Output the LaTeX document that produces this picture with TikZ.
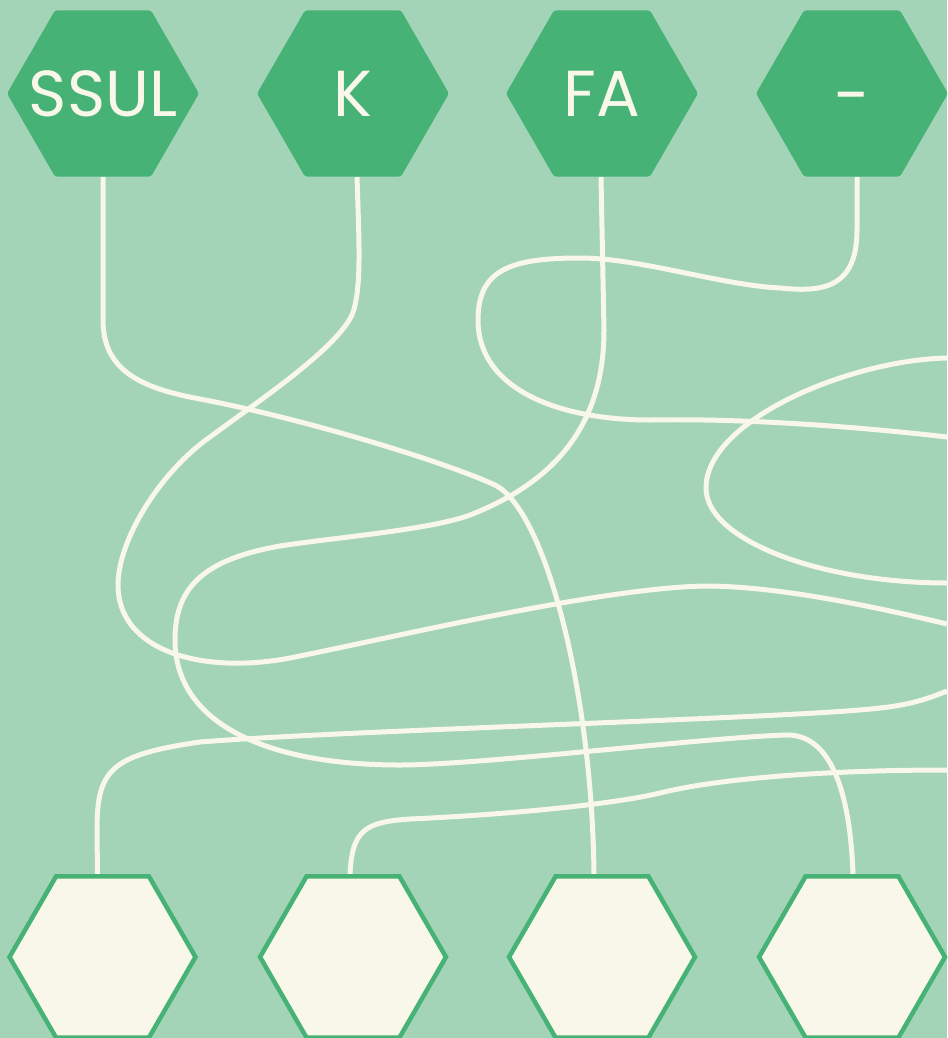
\documentclass[tikz,border=0pt]{standalone}
\usepackage{fontspec}
\setmainfont{Poppins}
\usetikzlibrary{shapes.geometric, calc}
\definecolor{mint}{HTML}{A3D4B7}
\definecolor{leaf}{HTML}{47B275}
\definecolor{cream}{HTML}{F8F7E9}
\pgfdeclarelayer{bgfill}
\pgfdeclarelayer{wires}
\pgfsetlayers{bgfill,wires,main}
\tikzset{
  hexlabel/.style={text=cream, font=\fontsize{37}{40}\selectfont, inner sep=0pt},
  hextop/.style={
    regular polygon, regular polygon sides=6, minimum size=3.84cm,
    inner sep=0pt, fill=leaf, draw=none, rounded corners=1.5pt
  },
  hexbot/.style={
    regular polygon, regular polygon sides=6, minimum size=3.72cm,
    inner sep=0pt, fill=cream, draw=leaf, line width=0.09cm
  },
  wire/.style={draw=cream, line width=0.1cm}
}

\begin{document}
\begin{tikzpicture}[x=0.02cm, y=-0.02cm]
  \useasboundingbox (0,0) rectangle (947,1038);
  \begin{pgfonlayer}{bgfill}
    \fill[mint] (0,0) rectangle (947,1038);
  \end{pgfonlayer}

  % top row
  \node[hextop, label={[hexlabel]center:SSUL}] (ssul) at (103,93.5) {};
  \node[hextop, label={[hexlabel]center:K}]    (k)    at (353,93.5) {};
  \node[hextop, label={[hexlabel]center:FA}]   (fa)   at (602,93.5) {};
  \node[hextop, label={[hexlabel, yshift=-0.24cm]center:-}] (dash) at (852,93.5) {};

  % bottom row
  \node[hexbot] (out1) at (102.5,957) {};
  \node[hexbot] (out2) at (353,957) {};
  \node[hexbot] (out3) at (602,957) {};
  \node[hexbot] (out4) at (852,957) {};

  % free ends on the right edge
  \coordinate (e1) at (947,358);
  \coordinate (e2) at (947,437);
  \coordinate (e3) at (947,583);
  \coordinate (e4) at (947,624);
  \coordinate (e5) at (947,691);
  \coordinate (e6) at (947,770);

  \begin{pgfonlayer}{wires}
    \draw[wire] (ssul.south) -- (103,320)
      .. controls (103,370) and (140,388) .. (200,399)
      .. controls (300,418) and (440,460) .. (495,485)
      .. controls (545,510) and (592,690) .. ($(out3.north)+(-8,0)$);
    \draw[wire] ($(k.south)+(4,0)$)
      .. controls (359,240) and (362,290) .. (352,315)
      .. controls (335,350) and (260,400) .. (210,437)
      .. controls (160,472) and (118,540) .. (118,585)
      .. controls (118,650) and (200,675) .. (290,658)
      .. controls (400,636) and (600,588) .. (705,586)
      .. controls (780,586) and (880,608) .. (e4);
    \draw[wire] ($(fa.south)+(-1,0)$) -- (604,330)
      .. controls (604,420) and (560,480) .. (470,515)
      .. controls (430,530) and (330,538) .. (280,546)
      .. controls (200,560) and (175,590) .. (175,640)
      .. controls (175,720) and (260,765) .. (400,765)
      .. controls (480,765) and (700,738) .. (785,735)
      .. controls (830,733) and (850,790) .. ($(out4.north)+(1,0)$);
    \draw[wire] ($(dash.south)+(5,0)$) -- (857,230)
      .. controls (857,290) and (820,292) .. (780,288)
      .. controls (720,285) and (640,258) .. (580,258)
      .. controls (510,258) and (478,270) .. (478,320)
      .. controls (478,390) and (560,420) .. (650,420)
      .. controls (750,418) and (870,428) .. (e2);
    \draw[wire] (e1)
      .. controls (850,360) and (706,420) .. (706,488)
      .. controls (706,540) and (820,583) .. (e3);
    \draw[wire] ($(out1.north)+(-5,0)$) -- (97,830)
      .. controls (97,770) and (110,755) .. (200,742)
      .. controls (350,730) and (800,718) .. (880,708)
      .. controls (910,705) and (930,698) .. (e5);
    \draw[wire] ($(out2.north)+(-3,0)$)
      .. controls (352,830) and (365,822) .. (410,819)
      .. controls (500,815) and (610,805) .. (660,793)
      .. controls (720,778) and (830,770) .. (e6);
  \end{pgfonlayer}
\end{tikzpicture}
\end{document}
